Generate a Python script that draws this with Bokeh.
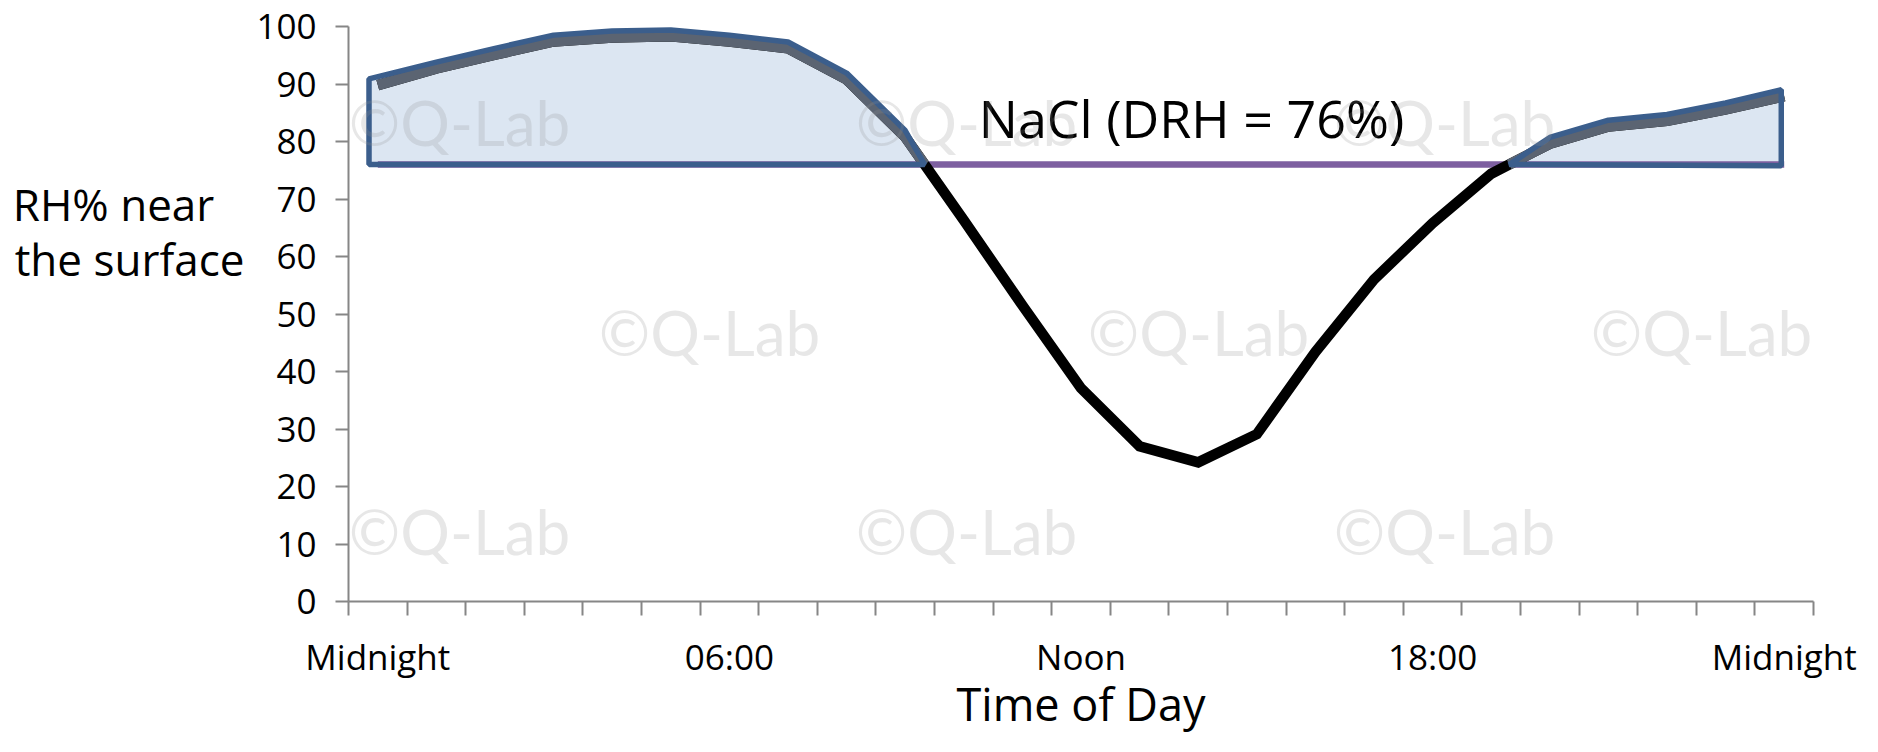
from bokeh.plotting import figure
from bokeh.models import Range1d, FixedTicker, Label
from bokeh.embed import file_html
from bokeh.resources import INLINE

# ---------------- data ----------------
hours = list(range(25))
rh = [89.8, 92.7, 95.1, 97.4, 98.1, 98.3, 97.4, 96.2, 90.8, 80.8,
      66.3, 51.5, 37.1, 27.0, 24.2, 29.1, 43.4, 56.0, 65.8, 74.4,
      79.6, 82.6, 83.6, 85.6, 87.9]
drh_value = 76
drh = [drh_value] * len(hours)
tick_hours = [0, 6, 12, 18, 24]
tick_labels = ["Midnight", "06:00", "Noon", "18:00", "Midnight"]
y_ticks = list(range(0, 101, 10))
annotation_text = "NaCl (DRH = 76%)"
x_title = "Time of Day"
y_title_lines = ["RH% near", "the surface"]
watermark = "\u00a9Q-Lab"

FONT = "Open Sans"

# ---------------- figure ----------------
W, H = 1862, 736
TOP, BOTTOM = 26, 134
p = figure(width=W, height=H, output_backend="svg", toolbar_location=None,
           x_range=Range1d(-0.5, 24.5), y_range=Range1d(0, 100),
           min_border_left=348, min_border_right=49,
           min_border_top=TOP, min_border_bottom=BOTTOM)
p.grid.visible = False
p.outline_line_color = None
p.background_fill_color = "white"
p.border_fill_color = "white"

# pixel (reference image) -> data helpers for annotations
FRAME_BOTTOM = H - BOTTOM
PX_PER_UNIT = (FRAME_BOTTOM - TOP) / 100.0

def px_x(X):
    return (X - 348.0) / 58.6 - 0.5

def px_y(Y):
    return (FRAME_BOTTOM - Y) / PX_PER_UNIT

# ---------- regions above the DRH ----------
def runs_above(vals, thr):
    runs, cur = [], []
    for i, v in enumerate(vals):
        if v > thr:
            cur.append(i)
        elif cur:
            runs.append(cur); cur = []
    if cur:
        runs.append(cur)
    return runs

def crossing(i, j):
    a, b = rh[i], rh[j]
    return i + (a - drh_value) / (a - b) * (j - i)

OFF = 1.1
regions = []   # (grey line xs, ys, polygon xs, ys)
for run in runs_above(rh, drh_value):
    lx = [float(h) for h in run]
    ly = [rh[h] for h in run]
    ux = list(lx)
    uy = [v + OFF for v in ly]
    first, last = run[0], run[-1]
    if first > 0:
        xc = crossing(first, first - 1)
        lx = [xc] + lx; ly = [drh_value] + ly
        ux = [xc] + ux; uy = [drh_value] + uy
    else:
        ux = [first - 0.15, first - 0.15] + ux[1:]
        uy = [drh_value, uy[0]] + uy[1:]
    if last < len(rh) - 1:
        xc = crossing(last, last + 1)
        lx = lx + [xc]; ly = ly + [drh_value]
        ux = ux + [xc]; uy = uy + [drh_value]
    else:
        ux = ux[:-1] + [last - 0.05, last - 0.05]
        uy = uy + [drh_value - 0.2]
    regions.append((lx, ly, ux, uy))

for lx, ly, ux, uy in regions:
    p.patch(ux, uy, fill_color="#dce6f2", line_color=None)

# DRH line
p.line(hours, drh, line_color="#7d5fa0", line_width=6.5)

# RH line
p.line(hours, rh, line_color="black", line_width=10.5, line_join="miter")

# grey line above DRH
for lx, ly, ux, uy in regions:
    p.line(lx, ly, line_color="#5b6472", line_width=10.5)

# blue outline
for lx, ly, ux, uy in regions:
    p.patch(ux, uy, fill_color=None, line_color="#3b5e8c", line_width=5.5)

# ---------------- axes ----------------
xa = p.xaxis[0]
xa.ticker = FixedTicker(ticks=tick_hours,
                        minor_ticks=[h - 0.5 for h in hours] + [hours[-1] + 0.5])
xa.major_label_overrides = {h: t for h, t in zip(tick_hours, tick_labels)}
xa.major_tick_out = 0
xa.major_tick_in = 0
xa.minor_tick_out = 14
xa.minor_tick_in = 0
xa.minor_tick_line_color = "#868686"
xa.minor_tick_line_width = 2
xa.axis_line_color = "#868686"
xa.axis_line_width = 2
xa.major_label_text_font = FONT
xa.major_label_text_font_size = "35px"
xa.major_label_text_color = "black"
xa.major_label_standoff = 17
xa.axis_label = x_title
xa.axis_label_text_font = FONT
xa.axis_label_text_font_size = "45px"
xa.axis_label_text_font_style = "normal"
xa.axis_label_text_color = "black"
xa.axis_label_standoff = -10

ya = p.yaxis[0]
ya.ticker = FixedTicker(ticks=y_ticks, minor_ticks=[])
ya.major_tick_out = 13
ya.major_tick_in = 0
ya.major_tick_line_color = "#868686"
ya.major_tick_line_width = 2
ya.axis_line_color = "#868686"
ya.axis_line_width = 2
ya.major_label_text_font = FONT
ya.major_label_text_font_size = "35px"
ya.major_label_text_color = "black"
ya.major_label_standoff = 19
# horizontal, two-line title; blank lines lift it above the axis centre,
# trailing spaces keep the first line flush left
ya.axis_label = "\n".join([y_title_lines[0] + "\u00a0\u00a0\u2009", y_title_lines[1],
                           "\u00a0", "\u00a0", "\u00a0"])
ya.axis_label_orientation = "horizontal"
ya.axis_label_text_align = "left"
ya.axis_label_text_font = FONT
ya.axis_label_text_font_size = "44px"
ya.axis_label_text_font_style = "normal"
ya.axis_label_text_color = "black"
ya.axis_label_text_line_height = 0.92
ya.axis_label_standoff = 9

# ---------------- annotation ----------------
p.add_layout(Label(x=px_x(1191), y=px_y(117.5), text=annotation_text,
                   text_font=FONT, text_font_size="52px", text_color="black",
                   text_align="center", text_baseline="alphabetic"))

# watermarks (inside the plotting area)
rows_a = [122, 531]
rows_b = [332]
cols_a = [459, 966, 1444]
cols_b = [709, 1198, 1701]
for rows, cols in ((rows_a, cols_a), (rows_b, cols_b)):
    for ry in rows:
        for cx in cols:
            p.add_layout(Label(x=px_x(cx), y=px_y(ry), text=watermark, text_font="Lato",
                               text_font_size="62px", text_color="#909090", text_alpha=0.22,
                               text_align="center", text_baseline="middle"))

open("out.html", "w").write(file_html(p, INLINE))
